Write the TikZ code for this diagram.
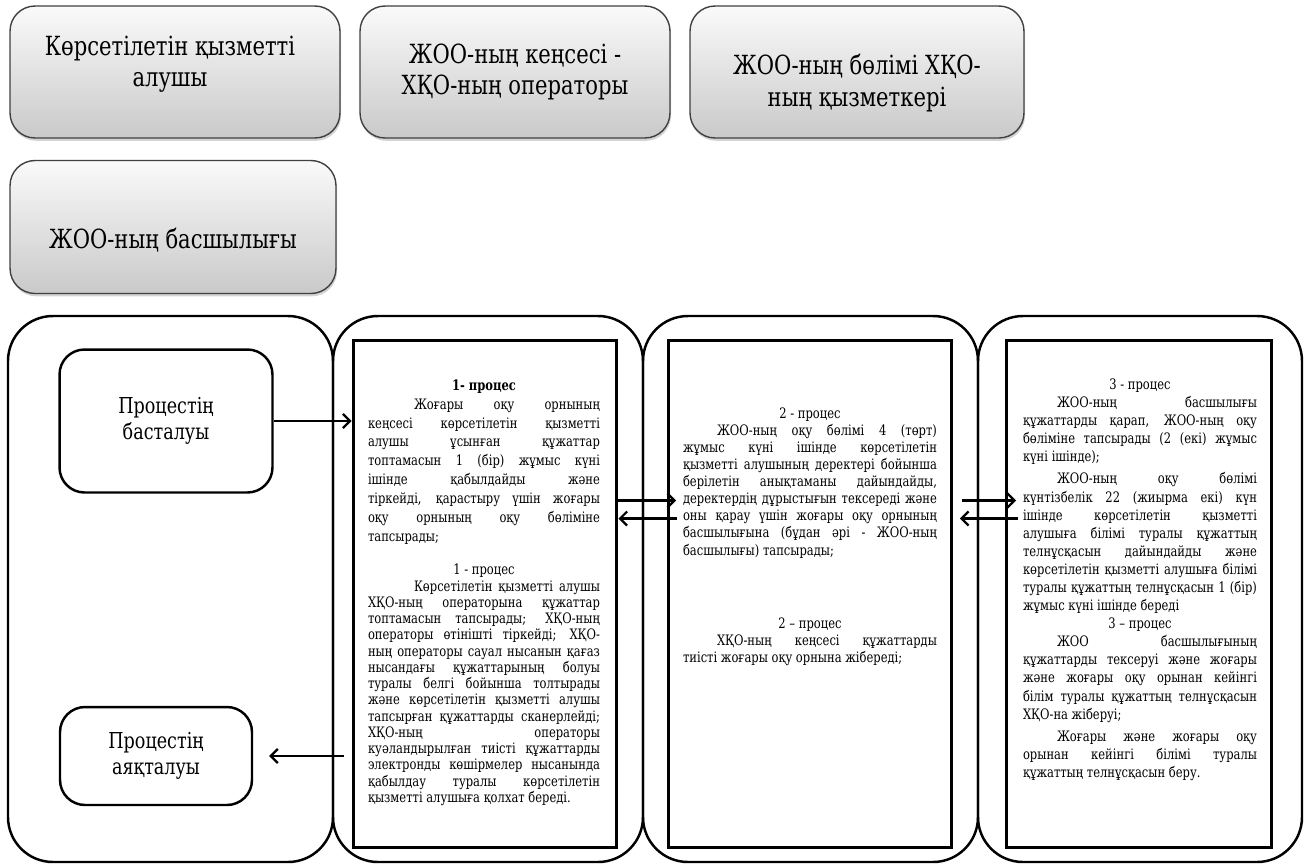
\documentclass[tikz,border=0pt]{standalone}
\usepackage{fontspec}
\setmainfont{DejaVu Serif}[FakeStretch=0.8]
\usetikzlibrary{shadows,arrows.meta}

\tikzset{
  header/.style={draw=black!75, line width=0.8pt, rounded corners=0.5cm,
    top color=gray!4, bottom color=gray!42,
    drop shadow={shadow xshift=0.6pt, shadow yshift=-1.6pt, opacity=0.35}},
  headertext/.style={align=center, font=\fontsize{15}{17.8}\selectfont},
  lane/.style={line width=1.4pt, rounded corners=0.9cm},
  termbox/.style={draw, line width=1.4pt, rounded corners=0.5cm, align=center,
    font=\fontsize{12.5}{15}\selectfont},
  procbox/.style={draw, line width=1.7pt, minimum height=10.14cm},
  proctext/.style={anchor=north, align=justify, inner sep=0pt},
  arr/.style={line width=1.3pt, -{Straight Barb[length=4pt,width=8pt]}}
}

\begin{document}
\begin{tikzpicture}[x=0.02cm, y=-0.02cm]
	\useasboundingbox (0,0) rectangle (1306,867);
	\node[header, minimum width=6.6cm, minimum height=2.64cm] (alushy) at (175,72) {};
	\node[header, minimum width=6.2cm, minimum height=2.64cm] (kense) at (515,72) {};
	\node[header, minimum width=6.68cm, minimum height=2.64cm] (bolim) at (857,72) {};
	\node[header, minimum width=6.52cm, minimum height=2.66cm] (basshy) at (173,227) {};
	\node[headertext] (alushytext) at (170,64) {Көрсетілетін қызметті\\алушы};
	\node[headertext] (kensetext) at (515,72) {ЖОО-ның кеңсесі -\\ХҚО-ның операторы};
	\node[headertext] (bolimtext) at (857,83) {ЖОО-ның бөлімі ХҚО-\\ның қызметкері};
	\node[headertext] (basshytext) at (173,240) {ЖОО-ның басшылығы};
	\draw[lane] (8,316) rectangle (333,862);
	\draw[lane] (333,316) rectangle (643,862);
	\draw[lane] (643,316) rectangle (978,862);
	\draw[lane] (978,316) rectangle (1302,862);
	\node[termbox, minimum width=4.26cm, minimum height=2.86cm] (bastau) at (166,421) {Процестің\\басталуы};
	\node[termbox, minimum width=3.84cm, minimum height=1.96cm] (ayaqtau) at (156,756) {Процестің\\аяқталуы};
	\node[procbox, minimum width=5.28cm] (proc1) at (485,594) {};
	\node[procbox, minimum width=5.66cm] (proc2) at (810,594) {};
	\node[procbox, minimum width=5.3cm] (proc3) at (1139,594) {};
	\node[proctext, text width=4.64cm] (text1) at (484,379) {\parindent=0pt
		\fontsize{8.2}{10.8}\selectfont
		{\centering\bfseries 1- процес\par}
		\hspace*{0.92cm}Жоғары оқу орнының\linebreak
		кеңсесі көрсетілетін қызметті\linebreak
		алушы ұсынған құжаттар\linebreak
		топтамасын 1 (бір) жұмыс күні\linebreak
		ішінде қабылдайды және\linebreak
		тіркейді, қарастыру үшін жоғары\linebreak
		оқу орнының оқу бөліміне\linebreak
		тапсырады;\par
		\vspace{9.5pt}\fontsize{8.2}{9.25}\selectfont
		{\centering 1 - процес\par}
		\hspace*{0.92cm}Көрсетілетін қызметті алушы\linebreak
		ХҚО-ның операторына құжаттар\linebreak
		топтамасын тапсырады; ХҚО-ның\linebreak
		операторы өтінішті тіркейді; ХҚО-\linebreak
		ның операторы сауал нысанын қағаз\linebreak
		нысандағы құжаттарының болуы\linebreak
		туралы белгі бойынша толтырады\linebreak
		және көрсетілетін қызметті алушы\linebreak
		тапсырған құжаттарды сканерлейді;\linebreak
		ХҚО-ның операторы\linebreak
		куәландырылған тиісті құжаттарды\linebreak
		электронды көшірмелер нысанында\linebreak
		қабылдау туралы көрсетілетін\linebreak
		қызметті алушыға қолхат береді.\par};
	\node[proctext, text width=5.08cm] (text2) at (810,407) {\parindent=0pt
		\fontsize{8.2}{9.75}\selectfont
		{\centering 2 - процес\par}
		\hspace*{0.68cm}ЖОО-ның оқу бөлімі 4 (төрт)\linebreak
		жұмыс күні ішінде көрсетілетін\linebreak
		қызметті алушының деректері бойынша\linebreak
		берілетін анықтаманы дайындайды,\linebreak
		деректердің дұрыстығын тексереді және\linebreak
		оны қарау үшін жоғары оқу орнының\linebreak
		басшылығына (бұдан әрі - ЖОО-ның\linebreak
		басшылығы) тапсырады;\par
		\vspace{32pt}
		{\centering 2 – процес\par}
		\hspace*{0.68cm}ХҚО-ның кеңсесі құжаттарды\linebreak
		тиісті жоғары оқу орнына жібереді;\par};
	\node[proctext, text width=4.68cm] (text3) at (1140,378) {\parindent=0pt
		\fontsize{8.2}{10.3}\selectfont
		{\centering 3 - процес\par}
		\hspace*{0.68cm}ЖОО-ның басшылығы\linebreak
		құжаттарды қарап, ЖОО-ның оқу\linebreak
		бөліміне тапсырады (2 (екі) жұмыс\linebreak
		күні ішінде);\par
		\vspace{2.5pt}
		\hspace*{0.68cm}ЖОО-ның оқу бөлімі\linebreak
		күнтізбелік 22 (жиырма екі) күн\linebreak
		ішінде көрсетілетін қызметті\linebreak
		алушыға білімі туралы құжаттың\linebreak
		телнұсқасын дайындайды және\linebreak
		көрсетілетін қызметті алушыға білімі\linebreak
		туралы құжаттың телнұсқасын 1 (бір)\linebreak
		жұмыс күні ішінде береді\par
		{\centering 3 – процес\par}
		\hspace*{0.68cm}ЖОО басшылығының\linebreak
		құжаттарды тексеруі және жоғары\linebreak
		және жоғары оқу орынан кейінгі\linebreak
		білім туралы құжаттың телнұсқасын\linebreak
		ХҚО-на жіберуі;\par
		\vspace{2.5pt}
		\hspace*{0.68cm}Жоғары және жоғары оқу\linebreak
		орынан кейінгі білімі туралы\linebreak
		құжаттың телнұсқасын беру.\par};
	\draw[arr] (bastau.east) -- (bastau.east -| proc1.west);
	\draw[arr, shorten <=0.16cm, shorten >=0.32cm] (proc1.west |- ayaqtau.east) -- (ayaqtau.east);
	\draw[arr, shorten >=-0.18cm] ([yshift=1.87cm]proc1.east) -- ([yshift=1.87cm]proc2.west);
	\draw[arr, shorten <=-0.2cm] ([yshift=1.51cm]proc2.west) -- ([yshift=1.51cm]proc1.east);
	\draw[arr, shorten <=0.18cm, shorten >=-0.22cm] ([yshift=1.87cm]proc2.east) -- ([yshift=1.87cm]proc3.west);
	\draw[arr, shorten <=-0.26cm, shorten >=0.14cm] ([yshift=1.51cm]proc3.west) -- ([yshift=1.51cm]proc2.east);
\end{tikzpicture}
\end{document}
